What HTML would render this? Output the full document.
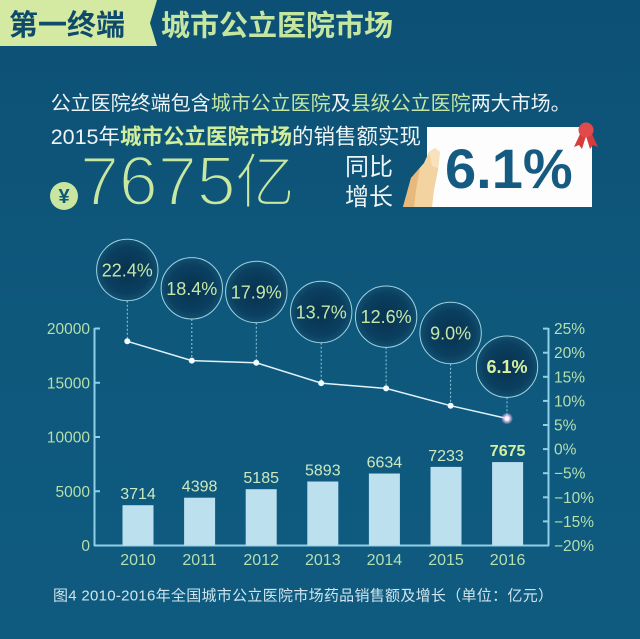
<!DOCTYPE html>
<html>
<head>
<meta charset="utf-8">
<style>
  html,body{margin:0;padding:0;background:#0e5579;}
  svg{display:block;}
  text{font-family:"Liberation Sans","Noto Sans CJK SC","WenQuanYi Zen Hei",sans-serif;}
</style>
</head>
<body>
<svg width="640" height="639" viewBox="0 0 640 639" xmlns="http://www.w3.org/2000/svg">
  <defs>
    <linearGradient id="bg" x1="0" y1="0" x2="0" y2="1">
      <stop offset="0" stop-color="#0d5075"/>
      <stop offset="0.5" stop-color="#0e587c"/>
      <stop offset="1" stop-color="#0f5b7f"/>
    </linearGradient>
    <radialGradient id="bub" cx="0.5" cy="0.5" r="0.5">
      <stop offset="0" stop-color="#08324f"/>
      <stop offset="0.75" stop-color="#0b3f60"/>
      <stop offset="1" stop-color="#11506f"/>
    </radialGradient>
    <radialGradient id="glow" cx="0.5" cy="0.5" r="0.5">
      <stop offset="0" stop-color="#ffffff"/>
      <stop offset="0.4" stop-color="#f4c8ee"/>
      <stop offset="1" stop-color="#f4c8ee" stop-opacity="0"/>
    </radialGradient>
  </defs>

  <!-- background -->
  <rect x="0" y="0" width="640" height="639" fill="url(#bg)"/>

  <!-- header -->
  <polygon points="0,0 157,0 150,23 157,46 0,46" fill="#d4e9a1"/>
  <text x="9" y="35" font-size="29" font-weight="bold" fill="#0e4a6a">第一终端</text>
  <text x="161" y="35.5" font-size="29" font-weight="bold" fill="#c5e6a0">城市公立医院市场</text>

  <!-- intro lines -->
  <text x="50.7" y="110" font-size="20" fill="#eef4f4">公立医院终端包含<tspan fill="#c3e6a3">城市公立医院</tspan>及<tspan fill="#c3e6a3">县级公立医院</tspan>两大市场。</text>
  <text x="50.7" y="144" font-size="21.5" fill="#eef4f4">2015年<tspan font-weight="bold" fill="#d0ee9c">城市公立医院市场</tspan>的销售额实现</text>

  <!-- yen + 7675亿 -->
  <circle cx="64" cy="196" r="14" fill="#c8e6a0"/>
  <text x="64" y="203" font-size="20" font-weight="bold" fill="#0e5578" text-anchor="middle">¥</text>
  <text x="80" y="205" font-size="70" fill="#c8e8a0" stroke="#0e5579" stroke-width="2.4">7675</text>
  <text x="235" y="203" font-size="60" fill="#c8e8a0" stroke="#0e5579" stroke-width="2.2">亿</text>

  <!-- 同比 增长 -->
  <text x="345" y="175" font-size="24" fill="#eef4f4">同比</text>
  <text x="345" y="205" font-size="24" fill="#eef4f4">增长</text>

  <!-- card -->
  <rect x="427" y="127" width="165" height="80" fill="#fdfdfd"/>
  <text x="445" y="188" font-size="56" font-weight="bold" fill="#155a80">6.1%</text>
  <!-- ribbon badge -->
  <polygon points="580,134 574,147 579,145 582,149 586,136" fill="#d63c3c"/>
  <polygon points="592,134 598,147 593,145 590,149 586,136" fill="#d63c3c"/>
  <circle cx="586" cy="130" r="7.5" fill="#e04a4a"/>
  <!-- hand -->
  <polygon points="403,207 411,178 424,163 429,152 435,148 440,152 438,170 434,190 432,207" fill="#f3d3a0"/>
  <polygon points="403,207 411,178 420,168 416,190 414,207" fill="#e7b97c"/>
  <polygon points="429,152 435,148 440,152 438,168 432,166" fill="#f8e2bc"/>

  <!-- axes -->
  <g stroke="#8fd0e8" stroke-width="2" fill="none">
    <line x1="94.5" y1="328" x2="94.5" y2="546"/>
    <line x1="548.5" y1="328" x2="548.5" y2="546"/>
    <line x1="94" y1="545.5" x2="549" y2="545.5"/>
    <!-- left ticks -->
    <line x1="94.5" y1="328.5" x2="100" y2="328.5"/>
    <line x1="94.5" y1="382.75" x2="100" y2="382.75"/>
    <line x1="94.5" y1="437" x2="100" y2="437"/>
    <line x1="94.5" y1="491.25" x2="100" y2="491.25"/>
    <!-- right ticks -->
    <line x1="543" y1="328.6" x2="548.5" y2="328.6"/>
    <line x1="543" y1="352.7" x2="548.5" y2="352.7"/>
    <line x1="543" y1="376.8" x2="548.5" y2="376.8"/>
    <line x1="543" y1="400.9" x2="548.5" y2="400.9"/>
    <line x1="543" y1="425" x2="548.5" y2="425"/>
    <line x1="543" y1="449.1" x2="548.5" y2="449.1"/>
    <line x1="543" y1="473.2" x2="548.5" y2="473.2"/>
    <line x1="543" y1="497.3" x2="548.5" y2="497.3"/>
    <line x1="543" y1="521.4" x2="548.5" y2="521.4"/>
  </g>

  <!-- left axis labels -->
  <g font-size="15.5" fill="#b5dfac" text-anchor="end">
    <text x="90" y="334">20000</text>
    <text x="90" y="388.3">15000</text>
    <text x="90" y="442.5">10000</text>
    <text x="90" y="496.8">5000</text>
    <text x="90" y="551">0</text>
  </g>
  <!-- right axis labels -->
  <g font-size="15.5" fill="#b5dfac">
    <text x="554" y="334.1">25%</text>
    <text x="554" y="358.2">20%</text>
    <text x="554" y="382.3">15%</text>
    <text x="554" y="406.4">10%</text>
    <text x="554" y="430.5">5%</text>
    <text x="554" y="454.6">0%</text>
    <text x="554" y="478.7">−5%</text>
    <text x="554" y="502.8">−10%</text>
    <text x="554" y="526.9">−15%</text>
    <text x="554" y="551">−20%</text>
  </g>

  <!-- bars -->
  <g fill="#bde0ee">
    <rect x="122.5" y="505.2" width="31" height="40.3"/>
    <rect x="184.1" y="497.7" width="31" height="47.8"/>
    <rect x="245.7" y="489.2" width="31" height="56.3"/>
    <rect x="307.3" y="481.5" width="31" height="64"/>
    <rect x="368.9" y="473.5" width="31" height="72"/>
    <rect x="430.5" y="466.9" width="31" height="78.6"/>
    <rect x="492.1" y="462.1" width="31" height="83.4"/>
  </g>
  <!-- bar value labels -->
  <g font-size="16" fill="#cde8c0" text-anchor="middle">
    <text x="138" y="499.2">3714</text>
    <text x="199.6" y="491.7">4398</text>
    <text x="261.2" y="483.2">5185</text>
    <text x="322.8" y="475.5">5893</text>
    <text x="384.4" y="467.5">6634</text>
    <text x="446" y="460.9">7233</text>
    <text x="507.6" y="456.1" font-weight="bold" fill="#d5f0a0">7675</text>
  </g>
  <!-- year labels -->
  <g font-size="16" fill="#b6dfb0" text-anchor="middle">
    <text x="138" y="565">2010</text>
    <text x="199.6" y="565">2011</text>
    <text x="261.2" y="565">2012</text>
    <text x="322.8" y="565">2013</text>
    <text x="384.4" y="565">2014</text>
    <text x="446" y="565">2015</text>
    <text x="507.6" y="565">2016</text>
  </g>

  <!-- dashed connectors -->
  <g stroke="#8ccbe0" stroke-width="1" stroke-dasharray="2,2">
    <line x1="127.3" y1="300.7" x2="127.3" y2="341"/>
    <line x1="191.8" y1="319" x2="191.8" y2="360"/>
    <line x1="256.3" y1="322.7" x2="256.3" y2="362.5"/>
    <line x1="321.2" y1="342.7" x2="321.2" y2="383"/>
    <line x1="386.1" y1="347.4" x2="386.1" y2="388"/>
    <line x1="450.6" y1="363.7" x2="450.6" y2="405.5"/>
    <line x1="507" y1="397.4" x2="507" y2="418.5"/>
  </g>

  <!-- growth line -->
  <polyline points="127.3,341.3 191.8,360.6 256.3,362.8 321.2,383.1 386.1,388.4 450.6,405.7 507,418.5" fill="none" stroke="#e2f2f8" stroke-width="1.5"/>
  <g fill="#f2fbff">
    <circle cx="127.3" cy="341.3" r="3"/>
    <circle cx="191.8" cy="360.6" r="3"/>
    <circle cx="256.3" cy="362.8" r="3"/>
    <circle cx="321.2" cy="383.1" r="3"/>
    <circle cx="386.1" cy="388.4" r="3"/>
    <circle cx="450.6" cy="405.7" r="3"/>
  </g>
  <circle cx="507" cy="418.5" r="6" fill="url(#glow)"/>
  <circle cx="507" cy="418.5" r="2" fill="#ffffff"/>

  <!-- bubbles -->
  <g stroke="#9fd2e4" stroke-width="1" fill="url(#bub)">
    <circle cx="127.3" cy="270" r="30.7"/>
    <circle cx="191.8" cy="288.3" r="30.7"/>
    <circle cx="256.3" cy="292" r="30.7"/>
    <circle cx="321.2" cy="312" r="30.7"/>
    <circle cx="386.1" cy="316.7" r="30.7"/>
    <circle cx="450.6" cy="333" r="30.7"/>
    <circle cx="507" cy="366.7" r="30.7"/>
  </g>
  <g font-size="18" fill="#c5e8a8" text-anchor="middle">
    <text x="127.3" y="276.5">22.4%</text>
    <text x="191.8" y="294.8">18.4%</text>
    <text x="256.3" y="298.5">17.9%</text>
    <text x="321.2" y="318.5">13.7%</text>
    <text x="386.1" y="323.2">12.6%</text>
    <text x="450.6" y="339.5">9.0%</text>
    <text x="507" y="373.2" font-weight="bold" fill="#d8f0a0">6.1%</text>
  </g>

  <!-- caption -->
  <text x="53" y="600.5" font-size="15" fill="#cfe4ec" textLength="500" lengthAdjust="spacing">图4  2010-2016年全国城市公立医院市场药品销售额及增长（单位：亿元）</text>
</svg>
</body>
</html>
